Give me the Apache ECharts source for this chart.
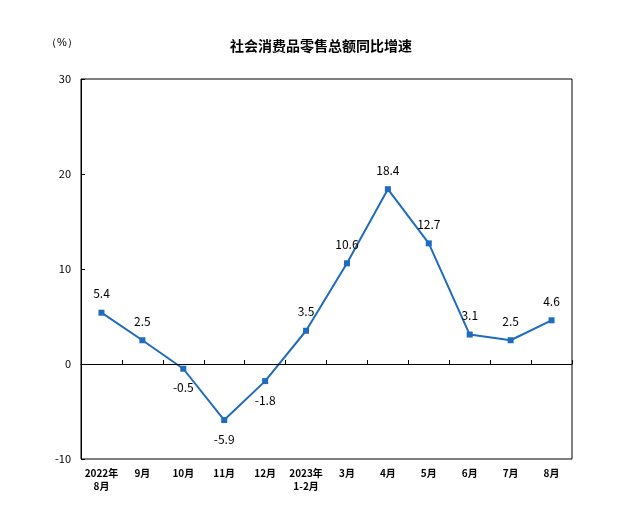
<!DOCTYPE html>
<html lang="zh">
<head>
  <meta charset="UTF-8">
  <title>社会消费品零售总额同比增速</title>
  <style>
    html, body { margin: 0; padding: 0; background: #fff; }
    #chart { width: 642px; height: 524px; }
  </style>
</head>
<body>
  <div id="chart"></div>
  <script src="https://cdn.jsdelivr.net/npm/echarts@6/dist/echarts.min.js"></script>
  <script>
    const categories = ['2022年\n8月', '9月', '10月', '11月', '12月', '2023年\n1-2月', '3月', '4月', '5月', '6月', '7月', '8月'];
    const values = [5.4, 2.5, -0.5, -5.9, -1.8, 3.5, 10.6, 18.4, 12.7, 3.1, 2.5, 4.6];
    // 标签位置
    const labelPos = ['top', 'top', 'bottom', 'bottom', 'bottom', 'top', 'top', 'top', 'top', 'top', 'top', 'top'];

    const chart = echarts.init(document.getElementById('chart'));
    chart.setOption({
      animation: false,
      textStyle: { fontFamily: '"Noto Sans CJK SC", "Liberation Sans", sans-serif' },
      title: {
        text: '社会消费品零售总额同比增速',
        left: 'center', top: 34,
        textStyle: { fontSize: 14, fontWeight: 'bold', color: '#000' }
      },
      graphic: [{
        type: 'text', left: 46, top: 37,
        style: { text: '（%）', fontSize: 11, fill: '#000' }
      }],
      grid: { left: 81, right: 70, top: 79, bottom: 65, show: true, borderColor: '#000', borderWidth: 1 },
      xAxis: {
        type: 'category',
        data: categories,
        axisLine: { lineStyle: { color: '#000' } },
        axisTick: { show: true, interval: 0, length: 4, inside: true, lineStyle: { color: '#000' } },
        axisLabel: { interval: 0, color: '#000', fontSize: 10, fontWeight: 'bold', margin: 8, lineHeight: 13 }
      },
      yAxis: {
        type: 'value', min: -10, max: 30, interval: 10,
        axisLine: { show: true, lineStyle: { color: '#000' } },
        axisTick: { show: true, inside: true, length: 4, lineStyle: { color: '#000' } },
        splitLine: { show: false },
        axisLabel: { color: '#000', fontSize: 11, margin: 10 }
      },
      series: [{
        type: 'line',
        data: values.map((v, i) => ({ value: v, label: { position: labelPos[i] } })),
        symbol: 'rect', symbolSize: 6,
        lineStyle: { color: '#1f6bbf', width: 2 },
        itemStyle: { color: '#1f6bbf' },
        label: { show: true, color: '#000', fontSize: 12, distance: 10 },
        markLine: {
          silent: true, symbol: 'none', label: { show: false },
          lineStyle: { color: '#000', type: 'solid', width: 1 },
          data: [{ yAxis: 0 }]
        }
      }]
    });
  </script>
</body>
</html>
